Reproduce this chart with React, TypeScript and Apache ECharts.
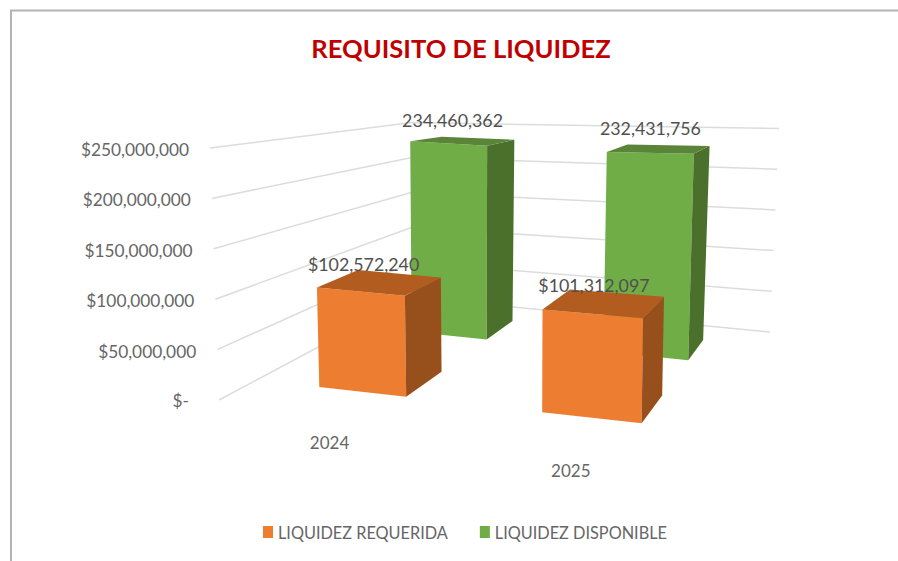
import React, { useEffect, useRef } from "react";
import * as echarts from "echarts";

const categories = ["2024", "2025"];
const liquidezRequerida = [102572240, 101312097];
const liquidezDisponible = [234460362, 232431756];
const requeridaLabels = ["$102,572,240", "$101,312,097"];
const disponibleLabels = ["234,460,362", "232,431,756"];
const yTicks = [0, 50000000, 100000000, 150000000, 200000000, 250000000];
const yTickLabels = ["$-", "$50,000,000", "$100,000,000", "$150,000,000", "$200,000,000", "$250,000,000"];

const FONT = "Lato, Carlito, sans-serif";
const GRID = { left: 200, top: 150, width: 400, height: 250 };

type Pt = [number, number];
// corners: front-left, front-right, back-right, back-left
function quadMap(q: Pt[]) {
  const [p0, p1, p2, p3] = q;
  const dx1 = p1[0] - p2[0], dx2 = p3[0] - p2[0], sx = p0[0] - p1[0] + p2[0] - p3[0];
  const dy1 = p1[1] - p2[1], dy2 = p3[1] - p2[1], sy = p0[1] - p1[1] + p2[1] - p3[1];
  const den = dx1 * dy2 - dx2 * dy1;
  const g = (sx * dy2 - dx2 * sy) / den;
  const h = (dx1 * sy - sx * dy1) / den;
  const a = p1[0] - p0[0] + g * p1[0], b = p3[0] - p0[0] + h * p3[0], c = p0[0];
  const d = p1[1] - p0[1] + g * p1[1], e = p3[1] - p0[1] + h * p3[1], f = p0[1];
  return (x: number, z: number): Pt => {
    const w = g * x + h * z + 1;
    return [(a * x + b * z + c) / w, (d * x + e * z + f) / w];
  };
}
const floorPlane = quadMap([[219, 400], [702, 456], [770, 332], [412, 297]]);
// rise of the full value range above the floor at the four floor corners
const RISE: Pt[] = [[-9, -252], [5, -275], [9, -203.5], [0, -174.4]];
function project(x: number, z: number, v: number): Pt {
  const f = floorPlane(x, z);
  const w = [(1 - x) * (1 - z), x * (1 - z), x * z, (1 - x) * z];
  const rx = w.reduce((s, k, i) => s + k * RISE[i][0], 0);
  const ry = w.reduce((s, k, i) => s + k * RISE[i][1], 0) + 80 * x * (1 - x) * z * (1 - z);
  return [f[0] + rx * v, f[1] + ry * v];
}

function fractions(api: any, cat: number, val: number) {
  const c = api.coord([cat, val]);
  return { x: (c[0] - GRID.left) / GRID.width, v: (GRID.top + GRID.height - c[1]) / GRID.height };
}

function barRenderer(zCenter: number, front: string, side: string, top: string, labels: string[], dxs: number[], dy: number) {
  return (params: any, api: any) => {
    const cat = api.value(0);
    const { x, v } = fractions(api, cat, api.value(1));
    const hw = 0.0945 + 0.014 * x, hd = 0.1, shift = -0.007;
    const x0 = x + shift - hw, x1 = x + shift + hw, z0 = zCenter - hd, z1 = zCenter + hd;
    const c = project((x0 + x1) / 2, zCenter, v);
    return {
      type: "group",
      children: [
        { type: "polygon", shape: { points: [project(x0, z0, 0), project(x1, z0, 0), project(x1, z0, v), project(x0, z0, v)] }, style: { fill: front } },
        { type: "polygon", shape: { points: [project(x1, z0, 0), project(x1, z1, 0), project(x1, z1, v), project(x1, z0, v)] }, style: { fill: side } },
        { type: "polygon", shape: { points: [project(x0, z0, v), project(x1, z0, v), project(x1, z1, v), project(x0, z1, v)] }, style: { fill: top } },
        {
          type: "text", z2: 10,
          style: { x: c[0] + dxs[params.dataIndex], y: c[1] + dy, text: labels[params.dataIndex], fill: "#505050", font: `17.8px ${FONT}`, align: "center", verticalAlign: "middle", textAlign: "center", textVerticalAlign: "middle" },
        },
      ],
    };
  };
}

const App = () => {
  const ref = useRef<HTMLDivElement>(null);
  useEffect(() => {
    const chart = echarts.init(ref.current!, null, { renderer: "svg" });
    chart.setOption({
      animation: false,
      backgroundColor: "#ffffff",
      title: {
        text: "REQUISITO DE LIQUIDEZ",
        left: 456, top: 30, textAlign: "center",
        textStyle: { color: "#C00000", fontFamily: FONT, fontWeight: "bold", fontSize: 25.6 },
      },
      legend: {
        data: ["LIQUIDEZ REQUERIDA", "LIQUIDEZ DISPONIBLE"],
        left: 258, top: 519, icon: "rect", itemWidth: 10, itemHeight: 12, itemGap: 32, selectedMode: false,
        textStyle: { color: "#666666", fontFamily: FONT, fontSize: 16.3, padding: [0, 0, 0, 0] },
      },
      grid: { ...GRID },
      xAxis: { type: "category", data: categories, show: false },
      yAxis: { type: "value", min: 0, max: 250000000, interval: 50000000, show: false },
      graphic: [{
        type: "polyline", silent: true,
        shape: { points: [[11, 561], [11, 10.5], [898, 10.5]] },
        style: { stroke: "#b4b4b4", lineWidth: 2, fill: "none" },
      }],
      series: [
        {
          type: "custom", name: "gridlines", z: 1, silent: true,
          encode: { x: 0, y: 1 },
          data: yTicks.map((t) => [categories[0], t]),
          renderItem: (params: any, api: any) => {
            const { v } = fractions(api, 0, api.value(1));
            const a = project(0, 0, v);
            const zero = params.dataIndex === 0;
            return {
              type: "group",
              children: [
                { type: "polyline", shape: { points: [a, project(0, 1, v), project(1, 1, v)] }, style: { stroke: "#dcdcdc", lineWidth: 1.5, fill: "none" } },
                {
                  type: "text",
                  style: { x: a[0] + (zero ? -30 : -21), y: a[1] + (zero ? 0 : 1.5), text: yTickLabels[params.dataIndex], fill: "#666666", font: `17.3px ${FONT}`, align: "right", verticalAlign: "middle", textAlign: "right", textVerticalAlign: "middle" },
                },
              ],
            };
          },
        },
        {
          type: "custom", name: "categories", z: 1, silent: true,
          encode: { x: 0, y: 1 },
          data: categories.map((c) => [c, 0]),
          renderItem: (params: any, api: any) => {
            const { x } = fractions(api, api.value(0), 0);
            const p = project(x, 0, 0);
            return {
              type: "text",
              style: { x: p[0] - 4, y: p[1] + 29, text: categories[params.dataIndex], fill: "#666666", font: `17px ${FONT}`, align: "center", verticalAlign: "middle", textAlign: "center", textVerticalAlign: "middle" },
            };
          },
        },
        {
          type: "custom", name: "LIQUIDEZ REQUERIDA", z: 3,
          itemStyle: { color: "#ED7D31" },
          encode: { x: 0, y: 1 },
          data: liquidezRequerida.map((v, i) => [categories[i], v]),
          renderItem: barRenderer(0.25, "#ED7D31", "#97501C", "#B35C20", requeridaLabels, [-17, -11], -18),
        },
        {
          type: "custom", name: "LIQUIDEZ DISPONIBLE", z: 2,
          itemStyle: { color: "#70AD47" },
          encode: { x: 0, y: 1 },
          data: liquidezDisponible.map((v, i) => [categories[i], v]),
          renderItem: barRenderer(0.75, "#70AD47", "#4A702B", "#5A8538", disponibleLabels, [-11, -9], -21),
        },
      ],
    });
    return () => chart.dispose();
  }, []);
  return <div ref={ref} style={{ position: "absolute", left: 0, top: 0, width: 898, height: 561 }} />;
};

export default App;
